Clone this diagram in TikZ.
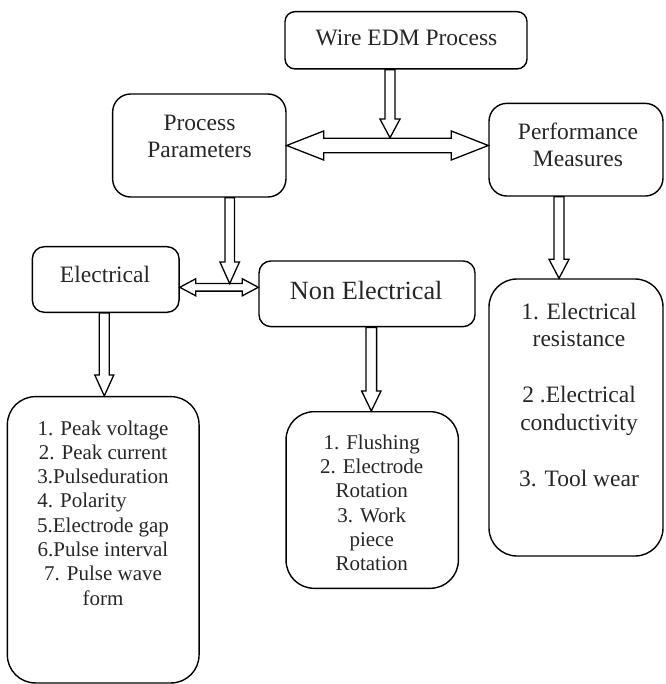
\documentclass[tikz,border=0pt]{standalone}
\usepackage{fontspec}
\setmainfont{Liberation Serif}
\usetikzlibrary{calc}
\newcommand{\ftitle}{\fontsize{23.5}{26.7}\selectfont}
\newcommand{\fnon}{\fontsize{26.3}{30}\selectfont}
\newcommand{\flist}{\fontsize{21}{24.3}\selectfont}
\newcommand{\fperf}{\fontsize{23.5}{27.9}\selectfont}
% single block arrow: start, target, shaft half width, head half width, head length
\newcommand{\blkarrow}[5]{\draw[blk] ($(#1)!#3!90:(#2)$) -- ($(#2)!#5!(#1)!#3!-90:(#1)$) -- ($(#2)!#5!(#1)!#4!-90:(#1)$) -- (#2) -- ($(#2)!#5!(#1)!#4!90:(#1)$) -- ($(#2)!#5!(#1)!#3!90:(#1)$) -- ($(#1)!#3!-90:(#2)$) -- cycle;}
% double block arrow
\newcommand{\dblarrow}[5]{\draw[blk] (#1) -- ($(#1)!#5!(#2)!#4!90:(#2)$) -- ($(#1)!#5!(#2)!#3!90:(#2)$) -- ($(#2)!#5!(#1)!#3!-90:(#1)$) -- ($(#2)!#5!(#1)!#4!-90:(#1)$) -- (#2) -- ($(#2)!#5!(#1)!#4!90:(#1)$) -- ($(#2)!#5!(#1)!#3!90:(#1)$) -- ($(#1)!#5!(#2)!#3!-90:(#2)$) -- ($(#1)!#5!(#2)!#4!-90:(#2)$) -- cycle;}
\begin{document}
\begin{tikzpicture}[x=1pt,y=-1pt,
  box/.style={draw, line width=1.4pt, inner sep=0pt},
  blk/.style={draw, fill=white, line width=1.3pt, line join=miter},
  txt/.style={anchor=base, inner sep=0pt, align=center, text=black!85}]
\useasboundingbox (0,0) rectangle (665,684);
% boxes
\node[box, minimum width=242pt, minimum height=57.3pt, rounded corners=10pt] (wire) at (406,40.3) {};
\node[box, minimum width=173.3pt, minimum height=103pt, rounded corners=18pt] (pp) at (199.3,145.5) {};
\node[box, minimum width=174pt, minimum height=92.7pt, rounded corners=18pt] (pm) at (576,149.7) {};
\node[box, minimum width=146.7pt, minimum height=65.6pt, rounded corners=12pt] (el) at (105.7,279.5) {};
\node[box, minimum width=216pt, minimum height=65.7pt, rounded corners=12pt] (ne) at (367,293.8) {};
\node[box, minimum width=191.7pt, minimum height=286.3pt, rounded corners=28pt] (ellist) at (103.2,539.8) {};
\node[box, minimum width=172.3pt, minimum height=176.6pt, rounded corners=28pt] (nelist) at (372.2,500) {};
\node[box, minimum width=174pt, minimum height=277pt, rounded corners=28pt] (pmlist) at (576,417.5) {};
% texts (base = baseline of the last line)
\node[txt, font=\ftitle] (wiret) at (406.5,45.7) {Wire EDM Process};
\node[txt, font=\ftitle] (ppt) at (199.5,157.3) {Process\\Parameters};
\node[txt, font=\ftitle] (pmt) at (578,166.7) {Performance\\Measures};
\node[txt, font=\ftitle] (elt) at (105,282) {Electrical};
\node[txt, font=\fnon] (net) at (366.2,299) {Non Electrical};
\node[txt, font=\flist] (ellt) at (103,605.1) {1. Peak voltage\\2. Peak current\\3.Pulseduration\\\rlap{4. Polarity}\phantom{3.Pulseduration}\\5.Electrode gap\\6.Pulse interval\\7. Pulse wave\\form};
\node[txt, font=\flist] (nelt) at (371.7,570.7) {1. Flushing\\2. Electrode\\Rotation\\3. Work\\piece\\Rotation};
\node[txt, font=\fperf] (pmlt) at (579,486.4) {1. Electrical\\resistance\\[27.9pt]2 .Electrical\\conductivity\\[27.9pt]3. Tool wear};
% arrow end points
\coordinate (a1s) at ($(wire.south)+(-16,0)$);
\coordinate (a1t) at (390,137.8);
\coordinate (a2s) at (pp.east);
\coordinate (a2t) at (pp.east -| pm.west);
\coordinate (a3s) at ($(pp.south)+(30.4,0)$);
\coordinate (a3t) at (229.7,283.6);
\coordinate (a4s) at ($(pm.south)+(-17,0)$);
\coordinate (a4t) at (a4s |- pmlist.north);
\coordinate (a5s) at ($(el.east)+(0,7.8)$);
\coordinate (a5t) at (a5s -| ne.west);
\coordinate (a6s) at ($(el.south)+(-1.4,0)$);
\coordinate (a6t) at (a6s |- ellist.north);
\coordinate (a7s) at ($(ne.south)+(4.3,0)$);
\coordinate (a7t) at (a7s |- nelist.north);
% arrows
\dblarrow{a2s}{a2t}{7.2pt}{14.5pt}{37pt}
\blkarrow{a1s}{a1t}{5pt}{10pt}{18.7pt}
\dblarrow{a5s}{a5t}{3.8pt}{8.5pt}{16pt}
\blkarrow{a3s}{a3t}{4.7pt}{9.8pt}{21.7pt}
\blkarrow{a4s}{a4t}{5pt}{10pt}{19pt}
\blkarrow{a6s}{a6t}{5pt}{9.5pt}{21pt}
\blkarrow{a7s}{a7t}{5.3pt}{9.7pt}{20pt}
\end{tikzpicture}
\end{document}
